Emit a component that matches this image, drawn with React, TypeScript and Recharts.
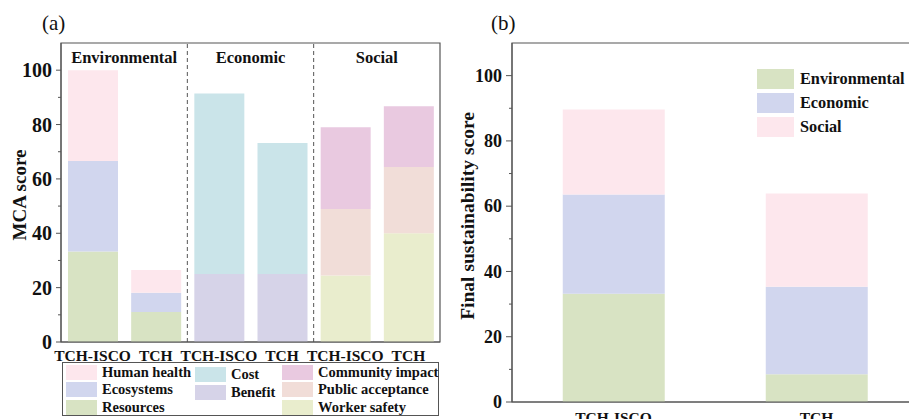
import React from 'react';
import {
  BarChart,
  Bar,
  XAxis,
  YAxis,
  ReferenceLine,
  ReferenceArea
} from 'recharts';

const FONT = "'Liberation Serif', 'Times New Roman', serif";
const AXIS = '#555';

// panel (a): MCA scores per criterion
const categoriesA = ['TCH-ISCO', 'TCH', 'TCH-ISCO', 'TCH', 'TCH-ISCO', 'TCH'];
const groupsA = ['Environmental', 'Economic', 'Social'];
const resources = [33.3, 11, 0, 0, 0, 0];
const ecosystems = [33.3, 7.1, 0, 0, 0, 0];
const humanHealth = [33.4, 8.4, 0, 0, 0, 0];
const benefit = [0, 0, 25, 25, 0, 0];
const cost = [0, 0, 66.4, 48.2, 0, 0];
const workerSafety = [0, 0, 0, 0, 24.5, 40];
const publicAcceptance = [0, 0, 0, 0, 24.4, 24.4];
const communityImpact = [0, 0, 0, 0, 30.1, 22.3];

// panel (b): final sustainability score
const categoriesB = ['TCH-ISCO', 'TCH'];
const environmental = [33.2, 8.5];
const economic = [30.4, 26.8];
const social = [26, 28.6];

const yTicks = [0, 10, 20, 30, 40, 50, 60, 70, 80, 90, 100];

const seriesA = [
  { key: 'Resources', values: resources, color: '#D8E3C3' },
  { key: 'Ecosystems', values: ecosystems, color: '#D1D6EE' },
  { key: 'Human health', values: humanHealth, color: '#FDE7ED' },
  { key: 'Benefit', values: benefit, color: '#D6D3E8' },
  { key: 'Cost', values: cost, color: '#CAE4E9' },
  { key: 'Worker safety', values: workerSafety, color: '#E9EDCD' },
  { key: 'Public acceptance', values: publicAcceptance, color: '#F1DDD8' },
  { key: 'Community impact', values: communityImpact, color: '#E9C9E0' },
];

const seriesB = [
  { key: 'Environmental', values: environmental, color: '#D8E3C3' },
  { key: 'Economic', values: economic, color: '#D1D6EE' },
  { key: 'Social', values: social, color: '#FDE7ED' },
];

const dataA = categoriesA.map((name, i) => {
  const row: any = { id: `${i}`, name };
  seriesA.forEach((s) => (row[s.key] = s.values[i]));
  return row;
});

const dataB = categoriesB.map((name, i) => {
  const row: any = { name };
  seriesB.forEach((s) => (row[s.key] = s.values[i]));
  return row;
});

const legendCols = [
  { left: 66, top: 364, gap: 17.5, items: ['Human health', 'Ecosystems', 'Resources'] },
  { left: 195, top: 366, gap: 18, items: ['Cost', 'Benefit'] },
  { left: 282, top: 364, gap: 17.5, items: ['Community impact', 'Public acceptance', 'Worker safety'] },
];

const colorOf = (k: string) =>
  (seriesA.find((s) => s.key === k) || seriesB.find((s) => s.key === k))!.color;

const makeYTick = (fontSize: number, major: number, minor: number, gap: number) => (props: any) => {
  const { x, y, payload } = props;
  const isMajor = payload.value % 20 === 0;
  return (
    <g>
      <line x1={x - (isMajor ? major : minor)} x2={x} y1={y} y2={y} stroke={AXIS} />
      {isMajor && (
        <text
          x={x - gap}
          y={y}
          dy="0.35em"
          textAnchor="end"
          fontSize={fontSize}
          fontWeight="bold"
          fontFamily={FONT}
          fill="#111"
        >
          {payload.value}
        </text>
      )}
    </g>
  );
};

const PanelA = () => (
  <BarChart
    width={445}
    height={372}
    data={dataA}
    margin={{ top: 43, right: 5, left: 0, bottom: 0 }}
    barSize={50}
  >
    <XAxis
      xAxisId="cat"
      dataKey="id"
      tickFormatter={(v: string) => categoriesA[Number(v)]}
      height={30}
      tickLine={false}
      tickSize={0}
      tickMargin={8}
      stroke={AXIS}
      tick={{ fontSize: 15.5, fontWeight: 'bold', fontFamily: FONT, fill: '#111' }}
      interval={0}
    />
    <YAxis
      width={61}
      domain={[0, 110]}
      ticks={yTicks}
      interval={0}
      tickLine={false}
      tickSize={0}
      tickMargin={0}
      stroke={AXIS}
      tick={makeYTick(20, 5, 3, 9)}
      label={{
        content: () => (
          <text
            x={19}
            y={195}
            transform="rotate(-90 19 195)"
            textAnchor="middle"
            dominantBaseline="central"
            fontSize={19}
            fontWeight="bold"
            fontFamily={FONT}
            fill="#111"
          >
            MCA score
          </text>
        ),
      }}
    />
    {seriesA.map((s) => (
      <Bar
        key={s.key}
        xAxisId="cat"
        dataKey={s.key}
        stackId="a"
        fill={s.color}
        isAnimationActive={false}
      />
    ))}
    <ReferenceArea xAxisId="cat" y1={0} y2={110} fill="none" stroke={AXIS} strokeWidth={1.2} />
    {/* dashed separators between the three groups */}
    {['2', '4'].map((x) => (
      <ReferenceLine
        key={x}
        xAxisId="cat"
        x={x}
        position="start"
        stroke={AXIS}
        strokeDasharray="4 3"
      />
    ))}
    {groupsA.map((g, i) => (
      <ReferenceLine
        key={g}
        xAxisId="cat"
        x={`${i * 2 + 1}`}
        position="start"
        stroke="none"
        label={{
          value: g,
          position: 'insideTop',
          offset: 8,
          fontSize: 16.5,
          fontWeight: 'bold',
          fontFamily: FONT,
          fill: '#111',
        }}
      />
    ))}
  </BarChart>
);

const PanelB = () => (
  <BarChart
    width={480}
    height={440}
    data={dataB}
    margin={{ top: 43, right: 2, left: 0, bottom: 8 }}
    barCategoryGap="25%"
  >
    <XAxis
      dataKey="name"
      height={30}
      tickLine={false}
      tickSize={0}
      tickMargin={10}
      stroke={AXIS}
      tick={{ fontSize: 15.5, fontWeight: 'bold', fontFamily: FONT, fill: '#111' }}
    />
    <YAxis
      width={72}
      domain={[0, 110]}
      ticks={yTicks}
      interval={0}
      tickLine={false}
      tickSize={0}
      tickMargin={0}
      stroke={AXIS}
      tick={makeYTick(18, 6, 3, 10)}
      label={{
        content: () => (
          <text
            x={27}
            y={216}
            transform="rotate(-90 27 216)"
            textAnchor="middle"
            dominantBaseline="central"
            fontSize={19.5}
            fontWeight="bold"
            fontFamily={FONT}
            fill="#111"
          >
            Final sustainability score
          </text>
        ),
      }}
    />
    {seriesB.map((s) => (
      <Bar key={s.key} dataKey={s.key} stackId="b" fill={s.color} isAnimationActive={false} />
    ))}
    <ReferenceArea y1={0} y2={110} fill="none" stroke={AXIS} strokeWidth={1.2} />
  </BarChart>
);

export default function App() {
  return (
    <div
      style={{
        position: 'fixed',
        left: 0,
        top: 0,
        width: 909,
        height: 419,
        overflow: 'hidden',
        background: '#fff',
        fontFamily: FONT,
      }}
    >
      <div style={{ position: 'absolute', left: 0, top: 0 }}>
        <PanelA />
      </div>
      <div style={{ position: 'absolute', left: 440, top: 0 }}>
        <PanelB />
      </div>

      <div style={{ position: 'absolute', left: 42, top: 11, fontSize: 21, color: '#111' }}>(a)</div>
      <div style={{ position: 'absolute', left: 491, top: 11, fontSize: 21, color: '#111' }}>(b)</div>

      {/* legend of panel (a) */}
      <div
        style={{
          position: 'absolute',
          left: 62,
          top: 362,
          width: 375,
          height: 52,
          border: '1px solid #555',
        }}
      />
      {legendCols.map((col) =>
        col.items.map((name, ri) => (
          <div
            key={name}
            style={{
              position: 'absolute',
              left: col.left,
              top: col.top + ri * col.gap,
              display: 'flex',
              alignItems: 'center',
              height: 16,
              whiteSpace: 'nowrap',
            }}
          >
            <div style={{ width: 31, height: 15, background: colorOf(name) }} />
            <span style={{ marginLeft: 5, fontSize: 14.5, fontWeight: 'bold', color: '#111' }}>{name}</span>
          </div>
        ))
      )}

      {/* legend of panel (b) */}
      {seriesB.map((s, i) => (
        <div
          key={s.key}
          style={{
            position: 'absolute',
            left: 757,
            top: 69 + i * 24,
            display: 'flex',
            alignItems: 'center',
            height: 20,
            whiteSpace: 'nowrap',
          }}
        >
          <div style={{ width: 37, height: 20, background: s.color }} />
          <span style={{ marginLeft: 6, fontSize: 16.3, fontWeight: 'bold', color: '#111' }}>{s.key}</span>
        </div>
      ))}
    </div>
  );
}
